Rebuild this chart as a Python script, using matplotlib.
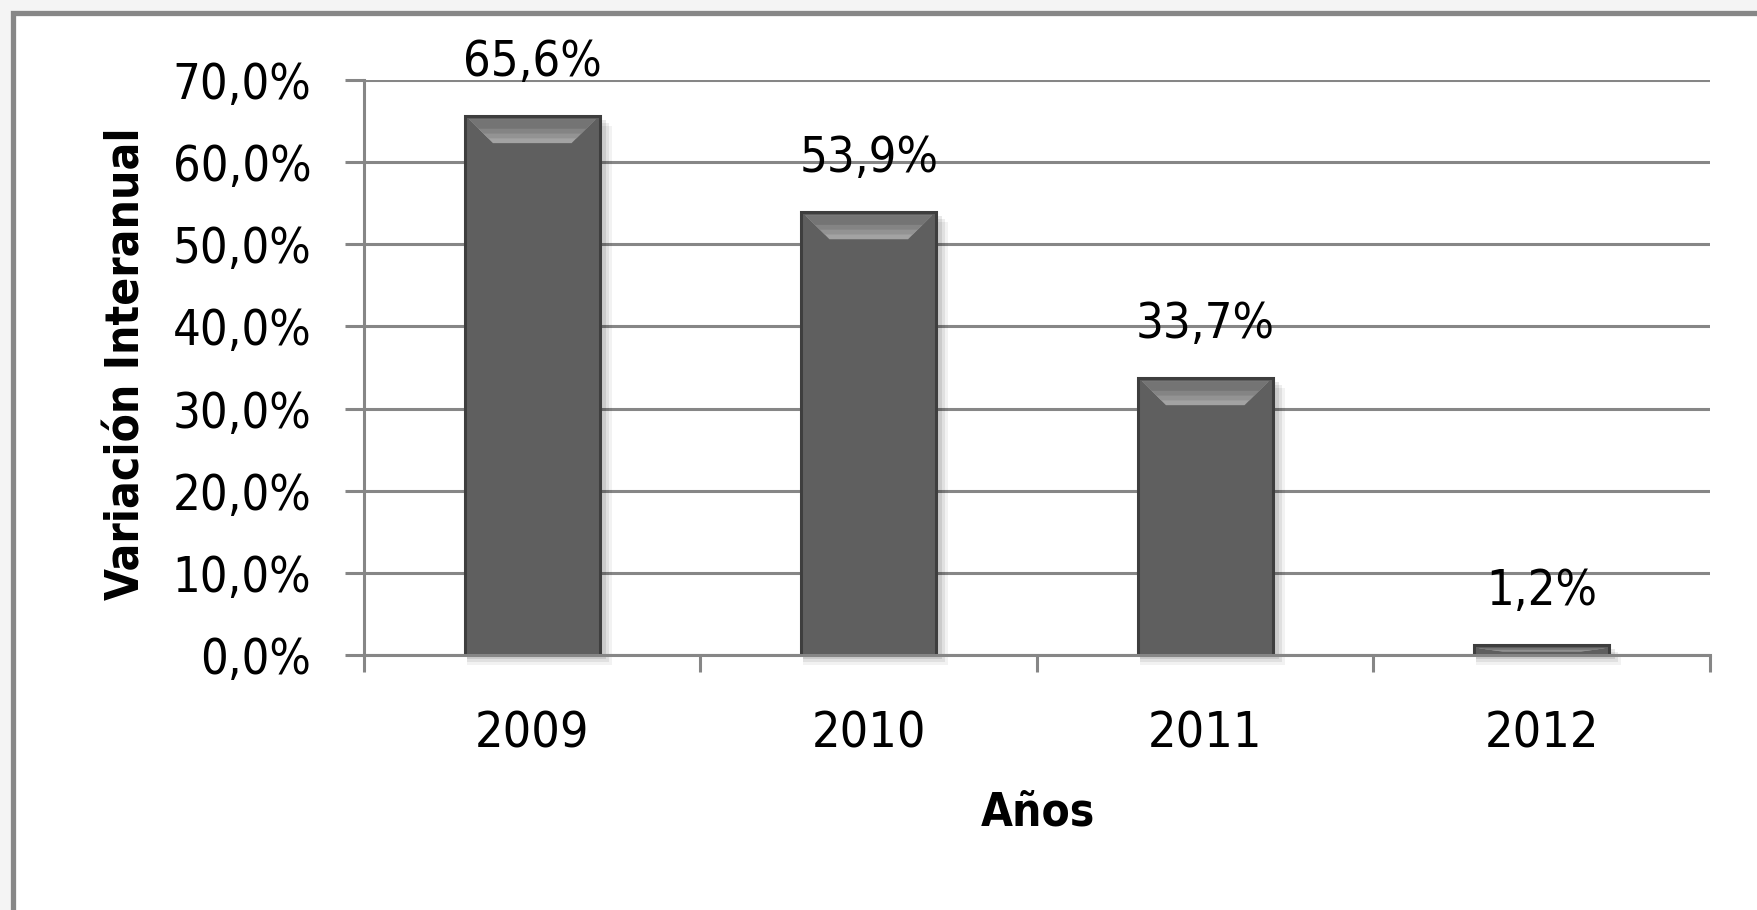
import matplotlib
matplotlib.use("Agg")
import matplotlib.pyplot as plt
from matplotlib import font_manager as fm
from matplotlib.patches import Rectangle, Polygon
from matplotlib.ticker import FixedLocator, FuncFormatter

# ---- data ----
years = ["2009", "2010", "2011", "2012"]
variation = [65.6, 53.9, 33.7, 1.2]
yticks = [0, 10, 20, 30, 40, 50, 60, 70]
ylabel = "Variación Interanual"
xlabel = "Años"

# ---- font choice ----
fam = "DejaVu Sans"
stretch = "normal"
try:
    p = fm.findfont(fm.FontProperties(family="DejaVu Sans", stretch="condensed"), fallback_to_default=False)
    if "Condensed" in p:
        stretch = "condensed"
except Exception:
    pass

W, H, DPI = 1758, 910, 100
fig = plt.figure(figsize=(W / DPI, H / DPI), dpi=DPI, facecolor="#f4f4f4")

# outer frame
frame = Rectangle((13 / W, -0.2), 1.5, 1 - 13 / H + 0.2, transform=fig.transFigure,
                  facecolor="white", edgecolor="#878787", linewidth=3.8, zorder=-10)
fig.patches.append(frame)

left, right = 364 / W, 1710 / W
bottom, top = 1 - 655 / H, 1 - 80 / H
ax = fig.add_axes([left, bottom, right - left, top - bottom])
ax.set_zorder(5)
ax.set_facecolor("none")

grid_c = "#868686"
x = list(range(len(years)))
bw = 0.40
ax.set_xlim(-0.5, len(years) - 0.5)
ax.set_ylim(0, 70)

# pixel -> data conversions
ppu_y = (655 - 80) / 70.0
ppu_x = (1710 - 364) / 4.0

for xi, v in zip(x, variation):
    # shadow
    for k, a in [(10, 0.05), (7, 0.07), (4, 0.09)]:
        ax.add_patch(Rectangle((xi - bw / 2 + 2 / ppu_x, -k / ppu_y), bw + k / ppu_x, v,
                               facecolor="black", alpha=a, edgecolor="none", zorder=2, clip_on=False))
    ax.add_patch(Rectangle((xi - bw / 2, 0), bw, v, facecolor="#5f5f5f",
                           edgecolor="#3e3e3e", linewidth=2.2, zorder=3))
    # top bevel
    bh = min(24 / ppu_y, v * 0.35)
    bx = 24 / ppu_x
    steps = [("#a3a3a3", 1.0), ("#939393", 0.8), ("#848484", 0.6), ("#747474", 0.4)]
    for col, f in steps:
        hh = bh * f
        ww = bx * f
        ax.add_patch(Polygon([(xi - bw / 2 + 4 / ppu_x, v - 3 / ppu_y),
                              (xi + bw / 2 - 4 / ppu_x, v - 3 / ppu_y),
                              (xi + bw / 2 - 4 / ppu_x - ww, v - 3 / ppu_y - hh),
                              (xi - bw / 2 + 4 / ppu_x + ww, v - 3 / ppu_y - hh)],
                             closed=True, facecolor=col, edgecolor="none", zorder=4))
    ax.annotate(f"{v:.1f}%".replace(".", ","), xy=(xi, v), xytext=(0, 29), textcoords="offset points",
                ha="center", va="baseline", fontsize=35, family=fam, fontstretch=stretch,
                color="black", zorder=6, annotation_clip=False)

# grid
ax.yaxis.set_major_locator(FixedLocator(yticks))
ax.yaxis.set_major_formatter(FuncFormatter(lambda v, p: f"{v:.1f}%".replace(".", ",")))
for t in yticks:
    ax.axhline(t, color=grid_c, linewidth=2.2, zorder=1)

for s in ["top", "right"]:
    ax.spines[s].set_visible(False)
ax.spines["left"].set_color(grid_c)
ax.spines["left"].set_linewidth(2.2)
ax.spines["bottom"].set_color(grid_c)
ax.spines["bottom"].set_linewidth(2.2)
ax.spines["bottom"].set_zorder(5)

ax.set_xticks(x)
ax.set_xticklabels(years)
ax.set_xticks([i - 0.5 for i in range(len(years) + 1)], minor=True)
ax.tick_params(axis="x", which="major", length=0, pad=39, labelsize=36)
ax.tick_params(axis="x", which="minor", length=12, width=2.2, color=grid_c)
ax.tick_params(axis="y", which="major", length=14, width=2.2, color=grid_c, pad=24, labelsize=35)
for lab in ax.get_xticklabels() + ax.get_yticklabels():
    lab.set_family(fam)
    lab.set_fontstretch(stretch)

fig.text(127 / W, 1 - 364 / H, ylabel, rotation=90, ha="center", va="center",
         fontsize=33, fontweight="bold", family=fam, fontstretch=stretch)
fig.text(1038 / W, 1 - 813 / H, xlabel, ha="center", va="center",
         fontsize=33, fontweight="bold", family=fam, fontstretch=stretch)

fig.savefig("out.png", dpi=DPI, facecolor=fig.get_facecolor())
